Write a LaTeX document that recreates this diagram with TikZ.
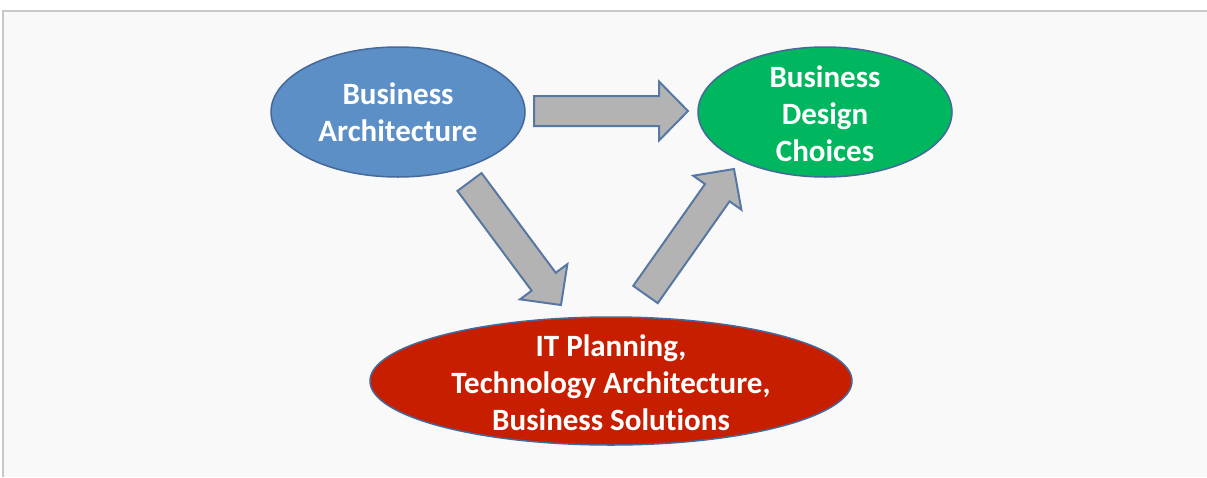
\documentclass[tikz,border=0pt]{standalone}
\usepackage{fontspec}
\setmainfont{Carlito}[Ligatures=NoCommon]
\usetikzlibrary{shapes.geometric,calc}

\definecolor{framegray}{HTML}{C8C8C8}
\definecolor{paper}{HTML}{F9F9F9}
\definecolor{bablue}{HTML}{5B8FC6}
\definecolor{bdgreen}{HTML}{00B65E}
\definecolor{itred}{HTML}{C81E00}
\definecolor{rimblue}{HTML}{44699A}
\definecolor{arrowgray}{HTML}{B3B3B3}

% block arrow from tail coordinate #1 to tip coordinate #2
\newcommand{\blockarrow}[2]{%
  \coordinate (#1-base) at ($(#2)!29pt!(#1)$);
  \draw[bigarrow] ($(#1)!15pt!90:(#2)$) -- ($(#1-base)!15pt!90:(#2)$)
    -- ($(#1-base)!29.5pt!90:(#2)$) -- (#2)
    -- ($(#1-base)!29.5pt!-90:(#2)$) -- ($(#1-base)!15pt!-90:(#2)$)
    -- ($(#1)!15pt!-90:(#2)$) -- cycle;
}

\begin{document}
\begin{tikzpicture}[x=1pt, y=-1pt,
	blob/.style={ellipse, draw=rimblue, line width=1.5pt, inner sep=0pt},
	txt/.style={text=white, align=center, font=\fontsize{31}{37}\selectfont\bfseries},
	bigarrow/.style={fill=arrowgray, draw=rimblue!90!white, line width=2pt, line join=miter}]
	\useasboundingbox (0,0) rectangle (1207,477);
	\fill[paper] (3,11) rectangle (1207,477);
	\draw[framegray, line width=2pt] (3,477) -- (3,11) -- (1207,11);

	\node[blob, fill=bablue, minimum width=254pt, minimum height=130pt] (arch) at (398,112) {};
	\node[blob, fill=bdgreen, minimum width=254pt, minimum height=130pt] (design) at (825,112) {};
	\node[blob, fill=itred, minimum width=482pt, minimum height=128pt] (itplan) at (611,381) {};

	\node[txt] (arch-txt) at (arch) {Business\\Architecture};
	\node[txt] (design-txt) at ($(design)+(0,1.5)$) {Business\\Design\\Choices};
	\node[txt] (itplan-txt) at ($(itplan)+(0,2)$) {IT Planning,\\Technology Architecture,\\Business Solutions};

	\coordinate (top-tail) at (534,111);
	\coordinate (top-tip) at (688,111);
	\coordinate (down-tail) at (469.5,182);
	\coordinate (down-tip) at (561,305);
	\coordinate (up-tail) at (645.5,294.5);
	\coordinate (up-tip) at (734,169);

	\blockarrow{top-tail}{top-tip}
	\blockarrow{down-tail}{down-tip}
	\blockarrow{up-tail}{up-tip}
\end{tikzpicture}
\end{document}
